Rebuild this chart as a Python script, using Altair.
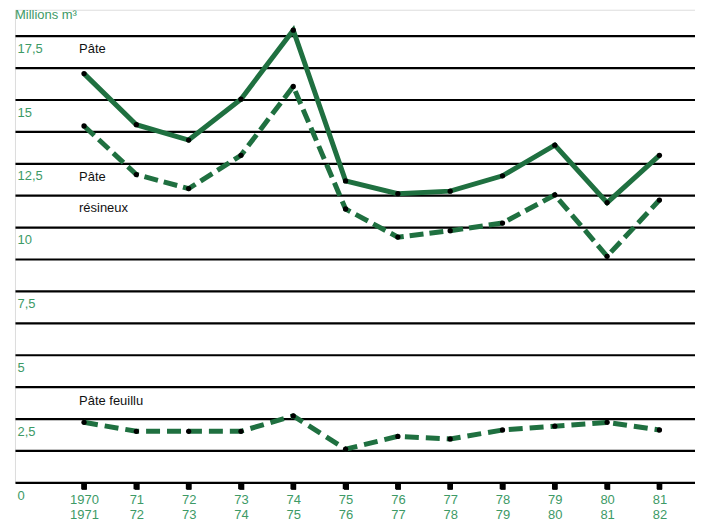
import altair as alt
import pandas as pd

categories = ["1970|1971", "71|72", "72|73", "73|74", "74|75", "75|76",
              "76|77", "77|78", "78|79", "79|80", "80|81", "81|82"]
pate = [16.0, 14.0, 13.4, 15.0, 17.7, 11.8, 11.3, 11.4, 12.0, 13.2, 10.95, 12.8]
pate_resineux = [13.95, 12.05, 11.5, 12.8, 15.5, 10.7, 9.6, 9.85, 10.15, 11.25, 8.85, 11.05]
pate_feuillu = [2.35, 2.0, 2.0, 2.0, 2.6, 1.3, 1.8, 1.7, 2.05, 2.2, 2.35, 2.05]

ann_text = ["Pâte", "Pâte", "résineux", "Pâte feuillu"]
ann_y = [16.95, 11.95, 10.72, 3.2]

GREEN = "#1f7040"
LABEL_GREEN = "#3d9a66"
FONT = "Liberation Sans"

rows = []
for name, vals in [("pate", pate), ("resineux", pate_resineux), ("feuillu", pate_feuillu)]:
    for c, v in zip(categories, vals):
        rows.append({"cat": c, "value": v, "series": name})
df = pd.DataFrame(rows)

xscale = alt.Scale(domain=categories, padding=1.15, align=0.66)
yscale = alt.Scale(domain=[0, 18.5], nice=False)

x_axis = alt.Axis(title=None, labelAngle=0, labelExpr="split(datum.label, '|')",
                  labelColor=LABEL_GREEN, labelFontSize=13, labelFont=FONT,
                  ticks=True, tickColor="black", tickWidth=5, tickSize=7, tickOpacity=1,
                  domain=False, labelPadding=4, grid=False, labelLineHeight=15)
y_axis = alt.Axis(title=None, values=[i * 1.25 for i in range(15)],
                  grid=True, gridColor="black", gridWidth=2.2, gridOpacity=1,
                  ticks=False, tickSize=0, domain=False,
                  labelAlign="left", labelPadding=-2, labelBaseline="top",
                  labelOffset=7, labelColor=LABEL_GREEN, labelFontSize=13,
                  labelFont=FONT,
                  labelExpr="datum.value % 2.5 == 0 ? replace(format(datum.value, '~g'), '.', ',') : ''")

x_enc = alt.X("cat:O", scale=xscale, sort=categories, axis=x_axis)
y_enc = alt.Y("value:Q", scale=yscale, axis=y_axis)

base = alt.Chart(df)

line_solid = base.transform_filter(alt.datum.series == "pate").mark_line(
    color=GREEN, strokeWidth=5, strokeJoin="miter").encode(x=x_enc, y=y_enc)
line_res = base.transform_filter(alt.datum.series == "resineux").mark_line(
    color=GREEN, strokeWidth=5, strokeDash=[14, 6]).encode(x=x_enc, y=y_enc)
line_feu = base.transform_filter(alt.datum.series == "feuillu").mark_line(
    color=GREEN, strokeWidth=5, strokeDash=[14, 7]).encode(x=x_enc, y=y_enc)
points = base.mark_point(filled=True, color="black", size=28, opacity=1).encode(x=x_enc, y=y_enc)

# small black tick blocks under the baseline at each category
tick_df = pd.DataFrame({"cat": categories, "value": [0.0] * len(categories)})
ticks = alt.Chart(tick_df).mark_point(shape="square", filled=True, color="black",
                                      size=32, yOffset=4, opacity=1).encode(
    x=x_enc, y=y_enc)

ann_df = pd.DataFrame({"text": ann_text, "value": ann_y, "cat": [categories[0]] * 4})
ann = alt.Chart(ann_df).mark_text(align="left", baseline="middle", dx=-5, fontSize=13,
                                  font=FONT, color="#111").encode(
    x=x_enc, y=y_enc, text="text:N")

title_df = pd.DataFrame({"text": ["Millions m³"], "value": [18.28]})
title = alt.Chart(title_df).mark_text(align="left", baseline="middle", fontSize=13, font=FONT,
                                      color=LABEL_GREEN).encode(
    x=alt.value(0), y=y_enc, text="text:N")

chart = alt.layer(line_solid, line_res, line_feu, points, ticks, ann, title).properties(
    width=682, height=474, padding={"left": 7, "top": 0, "right": 0, "bottom": 0}
).configure_view(stroke=None, strokeWidth=0, fill="white").configure_axis(
    domain=False
).configure_axisY(gridColor="black").configure(background="white")

chart.save("out.html", embed_options={"renderer": "svg", "actions": False})
